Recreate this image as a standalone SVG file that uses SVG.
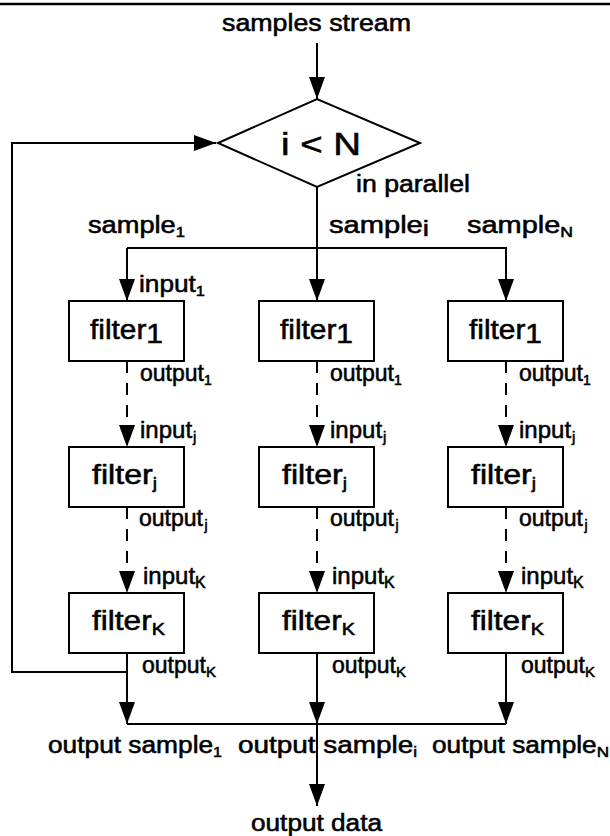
<svg xmlns="http://www.w3.org/2000/svg" width="610" height="836" viewBox="0 0 610 836">
<style>
text{font-family:"Liberation Sans",Arial,sans-serif;font-weight:normal;fill:#000;stroke:#000;stroke-width:0.55px}
.lbl{font-size:24px}
.out{font-size:23px}
.big{font-size:27px}
.ln{stroke:#000;stroke-width:2;fill:none}
.dash{stroke:#000;stroke-width:2;fill:none;stroke-dasharray:12 10}
.box{stroke:#000;stroke-width:2;fill:#fff}
</style>
<defs>
<marker id="ah" markerUnits="userSpaceOnUse" markerWidth="24" markerHeight="18" refX="22" refY="8" orient="auto">
<path d="M0,0 L22,8 L0,16 Z" fill="#000"/>
</marker>
</defs>
<rect x="0" y="0" width="610" height="836" fill="#fff"/>
<line x1="0" y1="4" x2="610" y2="4" stroke="#000" stroke-width="2.5"/>
<g id="connectors">
<line class="ln" x1="317" y1="43" x2="317" y2="99" marker-end="url(#ah)"/>
<path class="ln" d="M127,672 H12 V143 H216" marker-end="url(#ah)"/>
<line class="ln" x1="317" y1="187" x2="317" y2="301" marker-end="url(#ah)"/>
<path class="ln" d="M127,248 H506 V301" marker-end="url(#ah)"/>
<line class="ln" x1="127" y1="248" x2="127" y2="301" marker-end="url(#ah)"/>
<line class="dash" x1="127" y1="361" x2="127" y2="447" marker-end="url(#ah)"/>
<line class="dash" x1="317" y1="361" x2="317" y2="447" marker-end="url(#ah)"/>
<line class="dash" x1="506" y1="361" x2="506" y2="447" marker-end="url(#ah)"/>
<line class="dash" x1="127" y1="507" x2="127" y2="593" marker-end="url(#ah)"/>
<line class="dash" x1="317" y1="507" x2="317" y2="593" marker-end="url(#ah)"/>
<line class="dash" x1="506" y1="507" x2="506" y2="593" marker-end="url(#ah)"/>
<line class="ln" x1="127" y1="653" x2="127" y2="724" marker-end="url(#ah)"/>
<line class="ln" x1="317" y1="653" x2="317" y2="724" marker-end="url(#ah)"/>
<line class="ln" x1="506" y1="653" x2="506" y2="724" marker-end="url(#ah)"/>
<line class="ln" x1="127" y1="724" x2="506" y2="724"/>
<line class="ln" x1="317" y1="724" x2="317" y2="806" marker-end="url(#ah)"/>
</g>
<text x="222" y="31" font-size="23" textLength="189" lengthAdjust="spacingAndGlyphs">samples stream</text>
<g id="cond">
<polygon class="box" points="218,143 317,99 420,143 317,187"/>
<text x="281" y="155" style="font-size:32px" textLength="80" lengthAdjust="spacingAndGlyphs">i &lt; N</text>
</g>
<text x="356" y="192" font-size="23" textLength="114" lengthAdjust="spacingAndGlyphs">in parallel</text>
<text x="88" y="233" font-size="23" textLength="97" lengthAdjust="spacingAndGlyphs">sample<tspan dy="4" font-size="14">1</tspan></text>
<text x="329" y="233" font-size="23" textLength="100" lengthAdjust="spacingAndGlyphs">sample<tspan dy="3" font-size="22">i</tspan></text>
<text x="467" y="233" font-size="23" textLength="106" lengthAdjust="spacingAndGlyphs">sample<tspan dy="4" font-size="14">N</tspan></text>

<g id="col1">
<g id="f1a"><rect class="box" x="69" y="301" width="115" height="60"/><text class="big" x="90" y="339" textLength="73" lengthAdjust="spacingAndGlyphs">filter<tspan dy="4">1</tspan></text></g>
<g id="f1b"><rect class="box" x="69" y="447" width="115" height="60"/><text class="big" x="92" y="484" textLength="65" lengthAdjust="spacingAndGlyphs">filter<tspan dy="5" font-size="16">j</tspan></text></g>
<g id="f1c"><rect class="box" x="69" y="593" width="115" height="60"/><text class="big" x="92" y="630" textLength="73" lengthAdjust="spacingAndGlyphs">filter<tspan dy="5" font-size="17">K</tspan></text></g>
</g>
<g id="col2">
<g id="f2a"><rect class="box" x="259" y="301" width="115" height="60"/><text class="big" x="280" y="339" textLength="73" lengthAdjust="spacingAndGlyphs">filter<tspan dy="4">1</tspan></text></g>
<g id="f2b"><rect class="box" x="259" y="447" width="115" height="60"/><text class="big" x="282" y="484" textLength="65" lengthAdjust="spacingAndGlyphs">filter<tspan dy="5" font-size="16">j</tspan></text></g>
<g id="f2c"><rect class="box" x="259" y="593" width="115" height="60"/><text class="big" x="282" y="630" textLength="73" lengthAdjust="spacingAndGlyphs">filter<tspan dy="5" font-size="17">K</tspan></text></g>
</g>
<g id="col3">
<g id="f3a"><rect class="box" x="448" y="301" width="115" height="60"/><text class="big" x="469" y="339" textLength="73" lengthAdjust="spacingAndGlyphs">filter<tspan dy="4">1</tspan></text></g>
<g id="f3b"><rect class="box" x="448" y="447" width="115" height="60"/><text class="big" x="471" y="484" textLength="65" lengthAdjust="spacingAndGlyphs">filter<tspan dy="5" font-size="16">j</tspan></text></g>
<g id="f3c"><rect class="box" x="448" y="593" width="115" height="60"/><text class="big" x="471" y="630" textLength="73" lengthAdjust="spacingAndGlyphs">filter<tspan dy="5" font-size="17">K</tspan></text></g>
</g>

<g id="labels">
<text class="lbl" x="139" y="292" textLength="66" lengthAdjust="spacingAndGlyphs">input<tspan dy="4" font-size="15">1</tspan></text>
<text class="out" x="140" y="381">output<tspan dy="4" font-size="14">1</tspan></text>
<text class="out" x="330" y="381">output<tspan dy="4" font-size="14">1</tspan></text>
<text class="out" x="519" y="381">output<tspan dy="4" font-size="14">1</tspan></text>
<text class="lbl" x="140" y="438">input<tspan dx="1" dy="4" font-size="15">j</tspan></text>
<text class="lbl" x="330" y="438">input<tspan dx="1" dy="4" font-size="15">j</tspan></text>
<text class="lbl" x="519" y="438">input<tspan dx="1" dy="4" font-size="15">j</tspan></text>
<text class="out" x="139" y="526">output<tspan dx="1.5" dy="4" font-size="14">j</tspan></text>
<text class="out" x="330" y="526">output<tspan dx="1.5" dy="4" font-size="14">j</tspan></text>
<text class="out" x="519" y="526">output<tspan dx="1.5" dy="4" font-size="14">j</tspan></text>
<text class="lbl" x="143" y="584">input<tspan dy="4" font-size="16">K</tspan></text>
<text class="lbl" x="332" y="584">input<tspan dy="4" font-size="16">K</tspan></text>
<text class="lbl" x="521" y="584">input<tspan dy="4" font-size="16">K</tspan></text>
<text class="out" x="142" y="673">output<tspan dy="4" font-size="15">K</tspan></text>
<text class="out" x="332" y="673">output<tspan dy="4" font-size="15">K</tspan></text>
<text class="out" x="521" y="673">output<tspan dy="4" font-size="15">K</tspan></text>
<text x="48" y="753" font-size="23" textLength="174" lengthAdjust="spacingAndGlyphs">output sample<tspan dy="4" font-size="14">1</tspan></text>
<text x="238" y="753" font-size="23" textLength="179" lengthAdjust="spacingAndGlyphs">output sample<tspan dy="4" font-size="14">i</tspan></text>
<text x="432" y="753" font-size="23" textLength="177" lengthAdjust="spacingAndGlyphs">output sample<tspan dy="4" font-size="15">N</tspan></text>
<text x="251" y="831" font-size="23" textLength="131" lengthAdjust="spacingAndGlyphs">output data</text>
</g>
</svg>
